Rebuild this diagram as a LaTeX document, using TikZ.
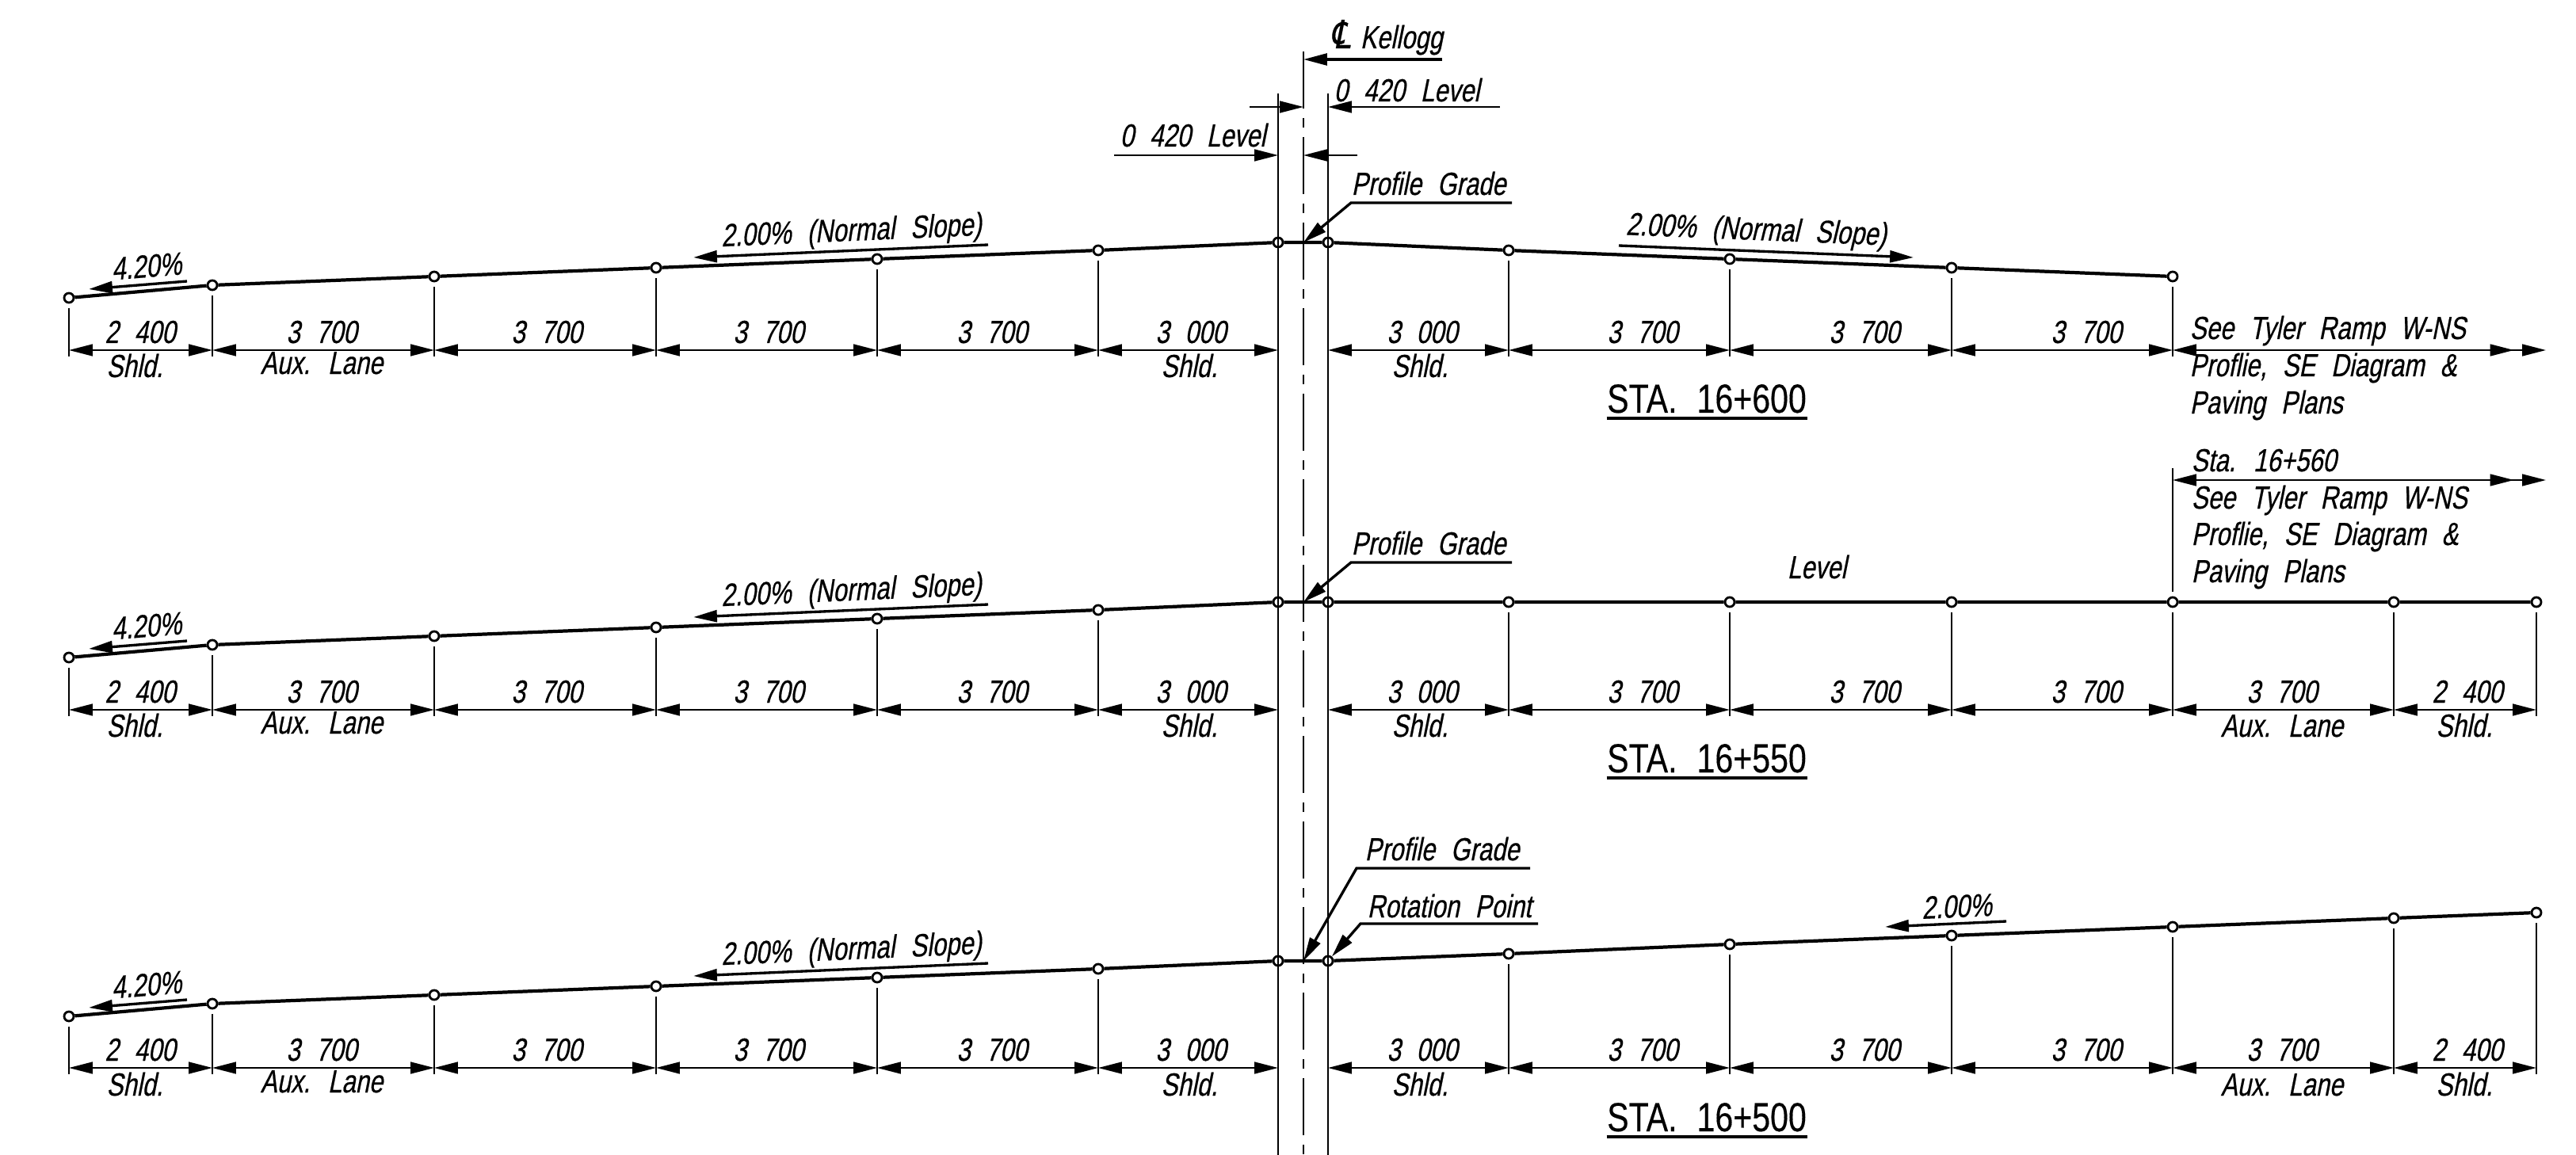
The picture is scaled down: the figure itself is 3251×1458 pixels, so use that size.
\documentclass[tikz,border=0pt]{standalone}
\usepackage{fontspec}
\usetikzlibrary{arrows.meta}
\setmainfont[FakeSlant=0.2,FakeStretch=0.77,FakeBold=0.5,WordSpace=2.3]{Liberation Sans}
\newfontfamily\stafont[FakeStretch=0.8,FakeBold=0.3,WordSpace=2.2]{Liberation Sans}
\newfontfamily\clfont[FakeSlant=0.2,FakeStretch=0.8,FakeBold=0.4]{DejaVu Sans}
\tikzset{
  >={Triangle[length=8.5pt,width=4.2pt]},
  pt/.style={circle,draw,fill=white,line width=.8pt,inner sep=0pt,minimum size=12*0.2845pt},
  grade/.style={line width=1.2pt},
  mainline/.style={line width=.7pt},
  tickline/.style={line width=.55pt,shorten <=5.5*0.2845pt,shorten >=-8*0.2845pt},
  dimline/.style={<->,line width=.6pt},
  dimlinetwo/.style={arrows={Triangle[length=8.5pt,width=4.2pt]-Triangle[length=8.5pt,width=4.2pt,sep=3pt]Triangle[length=8.5pt,width=4.2pt]},line width=.6pt},
  thinarrow/.style={->,line width=.6pt},
  leader/.style={<-,line width=.95pt},
  slopearrow/.style={->,line width=.95pt},
  txt/.style={inner sep=0pt,anchor=base,font=\fontsize{11.5pt}{13pt}\selectfont},
  txtl/.style={txt,anchor=base west},
  statxt/.style={inner sep=0pt,anchor=base,font=\stafont\fontsize{14.6pt}{16pt}\selectfont},
  stauline/.style={line width=1.2pt},
  centerline/.style={mainline,dash pattern=on 3.41pt off 3.41pt on 20.48pt off 3.41pt}
}
\begin{document}
\begin{tikzpicture}[x=0.01cm,y=-0.01cm]
  \useasboundingbox (0,0) rectangle (3251,1458);
  % top row
  \node[pt] at (87,376) (a1) {};
  \node[pt] at (268,360) (a2) {};
  \node[pt] at (548,349) (a3) {};
  \node[pt] at (828,338) (a4) {};
  \node[pt] at (1107,327) (a5) {};
  \node[pt] at (1386,316) (a6) {};
  \node[pt] at (1613,306) (a7) {};
  \node[pt] at (1676,306) (a8) {};
  \node[pt] at (1904,316) (a9) {};
  \node[pt] at (2183,327) (a10) {};
  \node[pt] at (2463,338) (a11) {};
  \node[pt] at (2742,349) (a12) {};
  \coordinate (a0) at (1645,306);
  \coordinate (a1d) at (87,442);
  \coordinate (a2d) at (268,442);
  \coordinate (a3d) at (548,442);
  \coordinate (a4d) at (828,442);
  \coordinate (a5d) at (1107,442);
  \coordinate (a6d) at (1386,442);
  \coordinate (a7d) at (1613,442);
  \coordinate (a8d) at (1676,442);
  \coordinate (a9d) at (1904,442);
  \coordinate (a10d) at (2183,442);
  \coordinate (a11d) at (2463,442);
  \coordinate (a12d) at (2742,442);
  \coordinate (a13d) at (3213,442);
  \draw[grade] (a1) -- (a2) -- (a3) -- (a4) -- (a5) -- (a6) -- (a7) -- (a8) -- (a9) -- (a10) -- (a11) -- (a12);
  \draw[tickline] (a1) -- (a1d);
  \draw[tickline] (a2) -- (a2d);
  \draw[tickline] (a3) -- (a3d);
  \draw[tickline] (a4) -- (a4d);
  \draw[tickline] (a5) -- (a5d);
  \draw[tickline] (a6) -- (a6d);
  \draw[tickline] (a9) -- (a9d);
  \draw[tickline] (a10) -- (a10d);
  \draw[tickline] (a11) -- (a11d);
  \draw[tickline] (a12) -- (a12d);
  \draw[dimline] (a1d) -- (a2d);
  \draw[dimline] (a2d) -- (a3d);
  \draw[dimline] (a3d) -- (a4d);
  \draw[dimline] (a4d) -- (a5d);
  \draw[dimline] (a5d) -- (a6d);
  \draw[dimline] (a6d) -- (a7d);
  \draw[dimline] (a8d) -- (a9d);
  \draw[dimline] (a9d) -- (a10d);
  \draw[dimline] (a10d) -- (a11d);
  \draw[dimline] (a11d) -- (a12d);
  \draw[dimlinetwo] (a12d) -- (a13d);
  \node[txt] at (177,433) (a1t) {2 400};
  \node[txt] at (406,433) (a2t) {3 700};
  \node[txt] at (690,433) (a3t) {3 700};
  \node[txt] at (970,433) (a4t) {3 700};
  \node[txt] at (1252,433) (a5t) {3 700};
  \node[txt] at (1503,433) (a6t) {3 000};
  \node[txt] at (1795,433) (a8t) {3 000};
  \node[txt] at (2073,433) (a9t) {3 700};
  \node[txt] at (2353,433) (a10t) {3 700};
  \node[txt] at (2633,433) (a11t) {3 700};
  \node[txt] at (170,476) (a1s) {Shld.};
  \node[txt] at (406,472) (a2s) {Aux. Lane};
  \node[txt] at (1501,476) (a6s) {Shld.};
  \node[txt] at (1792,476) (a8s) {Shld.};
  \node[txtl] at (2763,428) (a13t) {See Tyler Ramp W-NS};
  \node[txtl] at (2763,475) (a13u) {Proflie, SE Diagram \&};
  \node[txtl] at (2763,522) (a13v) {Paving Plans};
  \node[txt,rotate=4.6] at (186,350) (a1g) {4.20\%};
  \coordinate (a1gs) at (236,355);
  \coordinate (a1ge) at (112,365);
  \draw[slopearrow] (a1gs) -- (a1ge);
  \node[txt,rotate=2.5] at (1075,304) (a4g) {2.00\% (Normal Slope)};
  \coordinate (a4gs) at (1247,309);
  \coordinate (a4ge) at (875,325);
  \draw[slopearrow] (a4gs) -- (a4ge);
  \node[txt,rotate=-2.3] at (2216,303) (a10g) {2.00\% (Normal Slope)};
  \coordinate (a10gs) at (2043,310);
  \coordinate (a10ge) at (2415,325);
  \draw[slopearrow] (a10gs) -- (a10ge);
  \node[txtl] at (1705,246) (a0p) {Profile Grade};
  \coordinate (a0k) at (1705,256);
  \coordinate (a0m) at (1908,256);
  \draw[leader] (a0) -- (a0k) -- (a0m);
  \node[statxt] at (2154,521) (asta) {STA. 16+600};
  \draw[stauline] ([yshift=-2pt]asta.base west) -- ([yshift=-2pt]asta.base east);
  % middle row
  \node[pt] at (87,830) (b1) {};
  \node[pt] at (268,814) (b2) {};
  \node[pt] at (548,803) (b3) {};
  \node[pt] at (828,792) (b4) {};
  \node[pt] at (1107,781) (b5) {};
  \node[pt] at (1386,770) (b6) {};
  \node[pt] at (1613,760) (b7) {};
  \node[pt] at (1676,760) (b8) {};
  \node[pt] at (1904,760) (b9) {};
  \node[pt] at (2183,760) (b10) {};
  \node[pt] at (2463,760) (b11) {};
  \node[pt] at (2742,760) (b12) {};
  \node[pt] at (3021,760) (b13) {};
  \node[pt] at (3201,760) (b14) {};
  \coordinate (b0) at (1645,760);
  \coordinate (b1d) at (87,896);
  \coordinate (b2d) at (268,896);
  \coordinate (b3d) at (548,896);
  \coordinate (b4d) at (828,896);
  \coordinate (b5d) at (1107,896);
  \coordinate (b6d) at (1386,896);
  \coordinate (b7d) at (1613,896);
  \coordinate (b8d) at (1676,896);
  \coordinate (b9d) at (1904,896);
  \coordinate (b10d) at (2183,896);
  \coordinate (b11d) at (2463,896);
  \coordinate (b12d) at (2742,896);
  \coordinate (b13d) at (3021,896);
  \coordinate (b14d) at (3201,896);
  \draw[grade] (b1) -- (b2) -- (b3) -- (b4) -- (b5) -- (b6) -- (b7) -- (b8) -- (b9) -- (b10) -- (b11) -- (b12) -- (b13) -- (b14);
  \draw[tickline] (b1) -- (b1d);
  \draw[tickline] (b2) -- (b2d);
  \draw[tickline] (b3) -- (b3d);
  \draw[tickline] (b4) -- (b4d);
  \draw[tickline] (b5) -- (b5d);
  \draw[tickline] (b6) -- (b6d);
  \draw[tickline] (b9) -- (b9d);
  \draw[tickline] (b10) -- (b10d);
  \draw[tickline] (b11) -- (b11d);
  \draw[tickline] (b12) -- (b12d);
  \draw[tickline] (b13) -- (b13d);
  \draw[tickline] (b14) -- (b14d);
  \draw[dimline] (b1d) -- (b2d);
  \draw[dimline] (b2d) -- (b3d);
  \draw[dimline] (b3d) -- (b4d);
  \draw[dimline] (b4d) -- (b5d);
  \draw[dimline] (b5d) -- (b6d);
  \draw[dimline] (b6d) -- (b7d);
  \draw[dimline] (b8d) -- (b9d);
  \draw[dimline] (b9d) -- (b10d);
  \draw[dimline] (b10d) -- (b11d);
  \draw[dimline] (b11d) -- (b12d);
  \draw[dimline] (b12d) -- (b13d);
  \draw[dimline] (b13d) -- (b14d);
  \node[txt] at (177,887) (b1t) {2 400};
  \node[txt] at (406,887) (b2t) {3 700};
  \node[txt] at (690,887) (b3t) {3 700};
  \node[txt] at (970,887) (b4t) {3 700};
  \node[txt] at (1252,887) (b5t) {3 700};
  \node[txt] at (1503,887) (b6t) {3 000};
  \node[txt] at (1795,887) (b8t) {3 000};
  \node[txt] at (2073,887) (b9t) {3 700};
  \node[txt] at (2353,887) (b10t) {3 700};
  \node[txt] at (2633,887) (b11t) {3 700};
  \node[txt] at (2880,887) (b12t) {3 700};
  \node[txt] at (3114,887) (b13t) {2 400};
  \node[txt] at (170,930) (b1s) {Shld.};
  \node[txt] at (406,926) (b2s) {Aux. Lane};
  \node[txt] at (1501,930) (b6s) {Shld.};
  \node[txt] at (1792,930) (b8s) {Shld.};
  \node[txt] at (2880,930) (b12s) {Aux. Lane};
  \node[txt] at (3110,930) (b13s) {Shld.};
  \node[txt,rotate=4.6] at (186,804) (b1g) {4.20\%};
  \coordinate (b1gs) at (236,809);
  \coordinate (b1ge) at (112,819);
  \draw[slopearrow] (b1gs) -- (b1ge);
  \node[txt,rotate=2.5] at (1075,758) (b4g) {2.00\% (Normal Slope)};
  \coordinate (b4gs) at (1247,763);
  \coordinate (b4ge) at (875,779);
  \draw[slopearrow] (b4gs) -- (b4ge);
  \node[txt] at (2293,730) (blevel) {Level};
  \node[txtl] at (1705,700) (b0p) {Profile Grade};
  \coordinate (b0k) at (1705,710);
  \coordinate (b0m) at (1908,710);
  \draw[leader] (b0) -- (b0k) -- (b0m);
  \coordinate (b12a) at (2742,591);
  \coordinate (b12h) at (2742,606);
  \coordinate (b12e) at (3213,606);
  \draw[tickline,shorten >=0pt] (b12) -- (b12a);
  \draw[dimlinetwo] (b12h) -- (b12e);
  \node[txtl] at (2765,595) (b13r) {Sta. 16+560};
  \node[txtl] at (2765,642) (b13u) {See Tyler Ramp W-NS};
  \node[txtl] at (2765,688) (b13v) {Proflie, SE Diagram \&};
  \node[txtl] at (2765,735) (b13w) {Paving Plans};
  \node[statxt] at (2154,975) (bsta) {STA. 16+550};
  \draw[stauline] ([yshift=-2pt]bsta.base west) -- ([yshift=-2pt]bsta.base east);
  % bottom row
  \node[pt] at (87,1283) (c1) {};
  \node[pt] at (268,1267) (c2) {};
  \node[pt] at (548,1256) (c3) {};
  \node[pt] at (828,1245) (c4) {};
  \node[pt] at (1107,1234) (c5) {};
  \node[pt] at (1386,1223) (c6) {};
  \node[pt] at (1613,1213) (c7) {};
  \node[pt] at (1676,1213) (c8) {};
  \node[pt] at (1904,1204) (c9) {};
  \node[pt] at (2183,1192) (c10) {};
  \node[pt] at (2463,1181) (c11) {};
  \node[pt] at (2742,1170) (c12) {};
  \node[pt] at (3021,1159) (c13) {};
  \node[pt] at (3201,1152) (c14) {};
  \coordinate (c0) at (1645,1213);
  \coordinate (c1d) at (87,1348);
  \coordinate (c2d) at (268,1348);
  \coordinate (c3d) at (548,1348);
  \coordinate (c4d) at (828,1348);
  \coordinate (c5d) at (1107,1348);
  \coordinate (c6d) at (1386,1348);
  \coordinate (c7d) at (1613,1348);
  \coordinate (c8d) at (1676,1348);
  \coordinate (c9d) at (1904,1348);
  \coordinate (c10d) at (2183,1348);
  \coordinate (c11d) at (2463,1348);
  \coordinate (c12d) at (2742,1348);
  \coordinate (c13d) at (3021,1348);
  \coordinate (c14d) at (3201,1348);
  \draw[grade] (c1) -- (c2) -- (c3) -- (c4) -- (c5) -- (c6) -- (c7) -- (c8) -- (c9) -- (c10) -- (c11) -- (c12) -- (c13) -- (c14);
  \draw[tickline] (c1) -- (c1d);
  \draw[tickline] (c2) -- (c2d);
  \draw[tickline] (c3) -- (c3d);
  \draw[tickline] (c4) -- (c4d);
  \draw[tickline] (c5) -- (c5d);
  \draw[tickline] (c6) -- (c6d);
  \draw[tickline] (c9) -- (c9d);
  \draw[tickline] (c10) -- (c10d);
  \draw[tickline] (c11) -- (c11d);
  \draw[tickline] (c12) -- (c12d);
  \draw[tickline] (c13) -- (c13d);
  \draw[tickline] (c14) -- (c14d);
  \draw[dimline] (c1d) -- (c2d);
  \draw[dimline] (c2d) -- (c3d);
  \draw[dimline] (c3d) -- (c4d);
  \draw[dimline] (c4d) -- (c5d);
  \draw[dimline] (c5d) -- (c6d);
  \draw[dimline] (c6d) -- (c7d);
  \draw[dimline] (c8d) -- (c9d);
  \draw[dimline] (c9d) -- (c10d);
  \draw[dimline] (c10d) -- (c11d);
  \draw[dimline] (c11d) -- (c12d);
  \draw[dimline] (c12d) -- (c13d);
  \draw[dimline] (c13d) -- (c14d);
  \node[txt] at (177,1339) (c1t) {2 400};
  \node[txt] at (406,1339) (c2t) {3 700};
  \node[txt] at (690,1339) (c3t) {3 700};
  \node[txt] at (970,1339) (c4t) {3 700};
  \node[txt] at (1252,1339) (c5t) {3 700};
  \node[txt] at (1503,1339) (c6t) {3 000};
  \node[txt] at (1795,1339) (c8t) {3 000};
  \node[txt] at (2073,1339) (c9t) {3 700};
  \node[txt] at (2353,1339) (c10t) {3 700};
  \node[txt] at (2633,1339) (c11t) {3 700};
  \node[txt] at (2880,1339) (c12t) {3 700};
  \node[txt] at (3114,1339) (c13t) {2 400};
  \node[txt] at (170,1383) (c1s) {Shld.};
  \node[txt] at (406,1379) (c2s) {Aux. Lane};
  \node[txt] at (1501,1383) (c6s) {Shld.};
  \node[txt] at (1792,1383) (c8s) {Shld.};
  \node[txt] at (2880,1383) (c12s) {Aux. Lane};
  \node[txt] at (3110,1383) (c13s) {Shld.};
  \node[txt,rotate=4.6] at (186,1257) (c1g) {4.20\%};
  \coordinate (c1gs) at (236,1262);
  \coordinate (c1ge) at (112,1272);
  \draw[slopearrow] (c1gs) -- (c1ge);
  \node[txt,rotate=2.5] at (1075,1211) (c4g) {2.00\% (Normal Slope)};
  \coordinate (c4gs) at (1247,1216);
  \coordinate (c4ge) at (875,1232);
  \draw[slopearrow] (c4gs) -- (c4ge);
  \node[txt,rotate=2.5] at (2470,1158) (c11g) {2.00\%};
  \coordinate (c11gs) at (2532,1163);
  \coordinate (c11ge) at (2379,1170);
  \draw[slopearrow] (c11gs) -- (c11ge);
  \node[txtl] at (1722,1086) (c0p) {Profile Grade};
  \coordinate (c0k) at (1712,1096);
  \coordinate (c0m) at (1931,1096);
  \draw[leader] (c0) -- (c0k) -- (c0m);
  \node[txtl] at (1725,1158) (c8r) {Rotation Point};
  \coordinate (c8k) at (1717,1166);
  \coordinate (c8m) at (1941,1166);
  \draw[leader] (c8) -- (c8k) -- (c8m);
  \node[statxt] at (2154,1428) (csta) {STA. 16+500};
  \draw[stauline] ([yshift=-2pt]csta.base west) -- ([yshift=-2pt]csta.base east);
  % centre lines and offsets
  \coordinate (ltop) at (1613,118);
  \coordinate (lbot) at (1613,1458);
  \coordinate (rtop) at (1676,118);
  \coordinate (rbot) at (1676,1458);
  \coordinate (ctop) at (1645,65);
  \coordinate (cmid) at (1645,137);
  \coordinate (cdash) at (1645,149);
  \coordinate (cbot) at (1645,1458);
  \draw[mainline] (ltop) -- (lbot);
  \draw[mainline] (rtop) -- (rbot);
  \draw[mainline] (ctop) -- (cmid);
  \draw[centerline] (cdash) -- (cbot);
  \node[txtl] at (1678,61) (kellogg) {{\clfont\fontsize{14pt}{14pt}\selectfont ℄}\kern-2pt{} Kellogg};
  \coordinate (kstart) at (1820,75);
  \coordinate (kend) at (1645,75);
  \draw[slopearrow] (kstart) -- (kend);
  \node[txtl] at (1683,128) (offr) {0 420 Level};
  \coordinate (orstart) at (1893,135);
  \coordinate (orend) at (1676,135);
  \draw[thinarrow] (orstart) -- (orend);
  \coordinate (lcstart) at (1577,135);
  \coordinate (lcend) at (1645,135);
  \draw[thinarrow] (lcstart) -- (lcend);
  \node[txtl] at (1413,185) (offl) {0 420 Level};
  \coordinate (olstart) at (1406,196);
  \coordinate (olend) at (1613,196);
  \draw[thinarrow] (olstart) -- (olend);
  \coordinate (rcstart) at (1713,196);
  \coordinate (rcend) at (1645,196);
  \draw[thinarrow] (rcstart) -- (rcend);
\end{tikzpicture}
\end{document}
